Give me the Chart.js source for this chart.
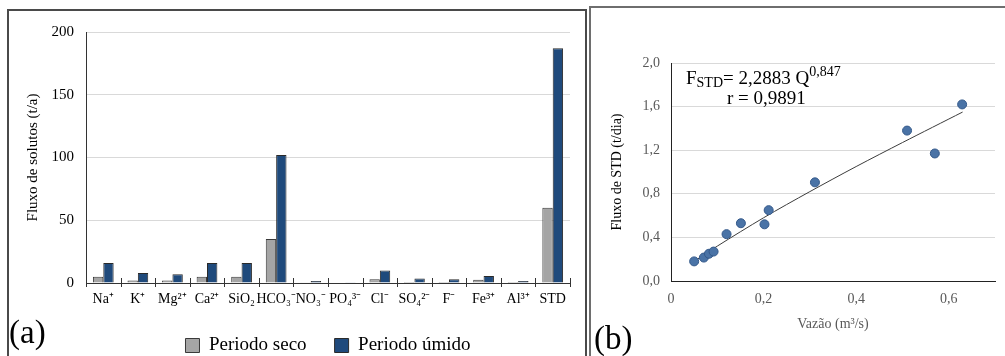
<!DOCTYPE html>
<html>
<head>
<meta charset="utf-8">
<script src="https://cdn.jsdelivr.net/npm/chart.js@4.4.1/dist/chart.umd.min.js"></script>
<style>
	html, body { margin: 0; padding: 0; background: #fff; width: 1005px; height: 356px; overflow: hidden; }
	.box { position: absolute; box-sizing: border-box; }
	#boxA { left: 7px; top: 9px; width: 580px; height: 370px; border: 2px solid #4a4a4a; }
	#boxB { left: 589px; top: 6px; width: 430px; height: 370px; border: 2px solid #6e6e6e; }
	canvas { position: absolute; }
	#chartA { left: 9px; top: 11px; }
	#chartB { left: 592px; top: 9px; }
	.txt { position: absolute; font-family: "Liberation Serif", "Times New Roman", serif; color: #000; white-space: nowrap; }
	.tag { font-size: 33px; line-height: 33px; }
	#tagA { left: 9px; top: 316px; }
	#tagB { left: 594px; top: 322px; }
	#eq1 { left: 686px; top: 68px; font-size: 19px; line-height: 19px; }
	#eq2 { left: 727px; top: 88px; font-size: 19px; line-height: 19px; }
	.sm { font-size: 14px; position: relative; }
</style>
</head>
<body>
<div class="box" id="boxA"></div>
<div class="box" id="boxB"></div>
<canvas id="chartA" width="576" height="354"></canvas>
<canvas id="chartB" width="413" height="347"></canvas>
<div class="txt tag" id="tagA">(a)</div>
<div class="txt tag" id="tagB">(b)</div>
<div class="txt" id="eq1">F<span class="sm" style="top:3px">STD</span>= 2,2883 Q<span class="sm" style="top:-8px">0,847</span></div>
<div class="txt" id="eq2">r = 0,9891</div>
<script>
// (a) fluxo de solutos por período
const solutos = ["Na⁺", "K⁺", "Mg²⁺", "Ca²⁺", "SiO₂", "HCO₃⁻", "NO₃⁻", "PO₄³⁻", "Cl⁻", "SO₄²⁻", "F⁻", "Fe³⁺", "Al³⁺", "STD"];
const periodoSeco = [5, 2, 2, 5, 5, 35, 0.6, 0.3, 3, 0.8, 0.8, 2.5, 0.8, 60];
const periodoUmido = [16, 8, 7, 16, 16, 102, 1.5, 0.6, 10, 3.5, 3, 5.5, 1.5, 187];
const fluxoTicks = [0, 50, 100, 150, 200];

// (b) vazão x fluxo de STD
const vazao = [0.05, 0.071, 0.082, 0.092, 0.12, 0.151, 0.202, 0.211, 0.311, 0.51, 0.57, 0.629];
const fluxoSTD = [0.18, 0.215, 0.25, 0.27, 0.43, 0.53, 0.52, 0.65, 0.905, 1.38, 1.17, 1.62];
// pontos lidos sobre a linha de tendência
const tendQ = [0.05, 0.1, 0.2, 0.3, 0.4, 0.5, 0.63];
const tendF = [0.18, 0.32, 0.58, 0.82, 1.05, 1.27, 1.55];

const serif = "'Liberation Serif', 'Times New Roman', serif";

// marcas cruzando o eixo x nas divisões das categorias
const crossTicks = {
	id: "crossTicks",
	afterDraw(chart) {
		const sx = chart.scales.x;
		const y = chart.chartArea.bottom;
		const half = (sx.getPixelForValue(1) - sx.getPixelForValue(0)) / 2;
		const ctx = chart.ctx;
		ctx.save();
		ctx.strokeStyle = "#333";
		ctx.lineWidth = 1;
		for (let i = 0; i <= solutos.length; i++) {
			const x = Math.round(sx.getPixelForValue(i) - half) + 0.5;
			ctx.beginPath();
			ctx.moveTo(x, y - 5);
			ctx.lineTo(x, y + 4);
			ctx.stroke();
		}
		ctx.restore();
	}
};

const virgula = (v, dec) => v.toFixed(dec).replace(".", ",");

function drawCharts() {
	new Chart(document.getElementById("chartA"), {
		type: "bar",
		data: {
			labels: solutos,
			datasets: [
				{
					label: "Periodo seco",
					data: periodoSeco,
					backgroundColor: "#a5a5a5",
					borderColor: "#3a3a3a",
					borderWidth: 1,
					categoryPercentage: 0.6,
					barPercentage: 1.0
				},
				{
					label: "Periodo úmido",
					data: periodoUmido,
					backgroundColor: "#1f4a7c",
					borderColor: "#2a2a2a",
					borderWidth: 1,
					categoryPercentage: 0.6,
					barPercentage: 1.0
				}
			]
		},
		options: {
			responsive: false,
			animation: false,
			layout: { padding: { top: 16, right: 15, left: 0, bottom: 0 } },
			plugins: {
				legend: {
					position: "bottom",
					fullSize: false,
					labels: {
						boxWidth: 14,
						boxHeight: 14,
						padding: 28,
						color: "#000",
						font: { family: serif, size: 19 }
					}
				},
				tooltip: { enabled: false }
			},
			scales: {
				x: {
					afterFit: (s) => { s.height = 25; },
					grid: { display: false, drawTicks: false },
					border: { display: true, color: "#333", width: 1 },
					ticks: { color: "#000", padding: 8, maxRotation: 0, autoSkip: false, font: { family: serif, size: 14 } }
				},
				y: {
					min: 0,
					max: 200,
					afterFit: (s) => { s.width = 77; },
					afterBuildTicks: (s) => { s.ticks = fluxoTicks.map((v) => ({ value: v })); },
					grid: { color: "#d9d9d9", drawTicks: false },
					border: { display: true, color: "#333", width: 1 },
					ticks: { color: "#000", padding: 12, font: { family: serif, size: 15 } },
					title: {
						display: true,
						text: "Fluxo de solutos (t/a)",
						color: "#000",
						padding: { top: 15, bottom: 0 },
						font: { family: serif, size: 15 }
					}
				}
			}
		},
		plugins: [crossTicks]
	});

	new Chart(document.getElementById("chartB"), {
		type: "scatter",
		data: {
			datasets: [
				{
					label: "Tendência",
					data: tendQ.map((q, i) => ({ x: q, y: tendF[i] })),
					showLine: true,
					borderColor: "#3c3c3c",
					borderWidth: 1,
					pointRadius: 0,
					tension: 0.3,
					order: 2
				},
				{
					label: "Fluxo de STD",
					data: vazao.map((q, i) => ({ x: q, y: fluxoSTD[i] })),
					backgroundColor: "#4a73a6",
					borderColor: "#34598a",
					borderWidth: 1,
					pointRadius: 4.5,
					order: 1
				}
			]
		},
		options: {
			responsive: false,
			animation: false,
			layout: { padding: { top: 54, right: 8, left: 0, bottom: 0 } },
			plugins: {
				legend: { display: false },
				tooltip: { enabled: false }
			},
			scales: {
				x: {
					type: "linear",
					min: 0,
					max: 0.7,
					afterFit: (s) => { s.height = 75; },
					grid: { display: false, drawTicks: false },
					border: { display: true, color: "#222", width: 1 },
					ticks: {
						stepSize: 0.2,
						color: "#595959",
						padding: 10,
						font: { family: serif, size: 14 },
						callback: (v) => (Math.abs(v - 0.7) < 1e-6 ? "" : (v === 0 ? "0" : virgula(v, 1)))
					},
					title: {
						display: true,
						text: "Vazão (m³/s)",
						color: "#595959",
						padding: { top: 0, bottom: 23 },
						font: { family: serif, size: 14 }
					}
				},
				y: {
					min: 0,
					max: 2,
					afterFit: (s) => { s.width = 79; },
					grid: { color: "#d9d9d9", drawTicks: false },
					border: { display: true, color: "#222", width: 1 },
					ticks: {
						stepSize: 0.4,
						color: "#595959",
						padding: 11,
						font: { family: serif, size: 14 },
						callback: (v) => virgula(v, 1)
					},
					title: {
						display: true,
						text: "Fluxo de STD (t/dia)",
						color: "#000",
						padding: { top: 17, bottom: 0 },
						font: { family: serif, size: 14 }
					}
				}
			}
		}
	});
}

if (document.fonts && document.fonts.load) {
	Promise.all([
		document.fonts.load("15px 'Liberation Serif'"),
		document.fonts.load("19px 'Liberation Serif'")
	]).then(drawCharts, drawCharts);
} else {
	drawCharts();
}
</script>
</body>
</html>
